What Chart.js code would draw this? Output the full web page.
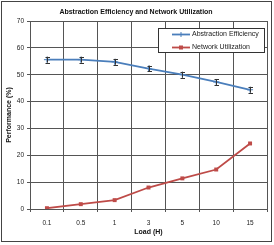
<!DOCTYPE html>
<html><head><meta charset="utf-8">
<script src="https://cdn.jsdelivr.net/npm/chart.js@4"></script>
<style>html,body{margin:0;padding:0;background:#fff}#w{width:274px;height:245px;position:relative}</style>
</head><body><div id="w"><canvas id="c" width="274" height="245"></canvas></div>
<script>
const categories = ['0.1','0.5','1','3','5','10','15'];
const abstractionEfficiency = [55.6, 55.6, 54.8, 52.3, 50.0, 47.3, 44.4];
const abstractionError = [1.1, 1.1, 1.1, 1.1, 1.1, 1.1, 1.1];
const networkUtilization = [0.3, 1.8, 3.3, 8.0, 11.4, 14.7, 24.4];
const yTicks = [0,10,20,30,40,50,60,70];
const FONT = "'Liberation Sans Narrow','Arial Narrow','Liberation Sans',Arial,sans-serif";

const extras = {
  id:'extras',
  afterDatasetsDraw(chart){
    const ctx = chart.ctx, x = chart.scales.x, y = chart.scales.y;
    ctx.save();
    ctx.strokeStyle = '#333'; ctx.lineWidth = 1;
    abstractionEfficiency.forEach((v,i)=>{
      const px = Math.round(x.getPixelForValue(i))+0.5;
      const top = y.getPixelForValue(v+abstractionError[i]);
      const bot = y.getPixelForValue(v-abstractionError[i]);
      ctx.beginPath();
      ctx.moveTo(px,top); ctx.lineTo(px,bot);
      ctx.moveTo(px-2,Math.round(top)+0.5); ctx.lineTo(px+2.5,Math.round(top)+0.5);
      ctx.moveTo(px-2,Math.round(bot)+0.5); ctx.lineTo(px+2.5,Math.round(bot)+0.5);
      ctx.stroke();
    });
    ctx.restore();
  },
  afterDraw(chart){
    const ctx = chart.ctx;
    ctx.save();
    const lx=158.5, ly=28.5, lw=106, lh=24;
    ctx.fillStyle='#fff'; ctx.fillRect(lx,ly,lw,lh);
    ctx.strokeStyle='#333'; ctx.lineWidth=1; ctx.strokeRect(lx,ly,lw,lh);
    const ds = chart.data.datasets;
    const rows=[34.5,47.5];
    ds.forEach((d,i)=>{
      const yy=rows[i];
      ctx.strokeStyle=d.borderColor; ctx.lineWidth=1.8;
      ctx.beginPath(); ctx.moveTo(172,yy); ctx.lineTo(190,yy); ctx.stroke();
      if(i===0){
        ctx.lineWidth=1; ctx.beginPath(); ctx.moveTo(181,yy-2.5); ctx.lineTo(181,yy+2.5); ctx.stroke();
      } else {
        ctx.fillStyle=d.pointBackgroundColor; ctx.fillRect(179,yy-2,4,4);
      }
      ctx.fillStyle='#222'; ctx.font='7px '+FONT; ctx.textBaseline='middle'; ctx.textAlign='left';
      ctx.fillText(d.label,192,yy);
    });
    ctx.strokeStyle='#444'; ctx.lineWidth=1;
    ctx.strokeRect(1.5,1.5,270,240);
    ctx.restore();
  }
};

new Chart(document.getElementById('c'),{
  type:'line',
  data:{labels:categories,datasets:[
    {label:'Abstraction Efficiency',data:abstractionEfficiency,borderColor:'#4A7EBB',backgroundColor:'#4A7EBB',
     pointStyle:'cross',pointRadius:3,pointBorderWidth:1,pointBorderColor:'#4A7EBB',borderWidth:1.8,tension:0},
    {label:'Network Utilization',data:networkUtilization,borderColor:'#BE4B48',backgroundColor:'#BE4B48',pointBackgroundColor:'#BE4B48',
     pointStyle:'rect',pointRadius:2.8,pointBorderWidth:0,borderWidth:1.8,tension:0}
  ]},
  plugins:[extras],
  options:{
    responsive:false,animation:false,devicePixelRatio:1,
    layout:{padding:{left:5,right:7,top:0,bottom:9}},
    plugins:{
      legend:{display:false},tooltip:{enabled:false},
      title:{display:true,text:'Abstraction Efficiency and Network Utilization',color:'#111',
        font:{family:FONT,size:7,weight:'bold'},padding:{top:8,bottom:4.6}}
    },
    scales:{
      x:{offset:true,grid:{offset:true,color:'#555',tickLength:3,drawTicks:true},border:{color:'#555'},
        ticks:{color:'#222',font:{family:FONT,size:6.5},padding:7,maxRotation:0},
        title:{display:true,text:'Load (H)',color:'#111',font:{family:FONT,size:7,weight:'bold'},padding:{top:0,bottom:0}},
        afterFit(s){s.height=27;}},
      y:{min:0,max:70,afterBuildTicks(s){s.ticks=yTicks.map(v=>({value:v}));},
        grid:{color:'#555',tickLength:3},border:{color:'#555'},
        ticks:{color:'#222',font:{family:FONT,size:6.5},padding:3},
        title:{display:true,text:'Performance (%)',color:'#111',font:{family:FONT,size:7,weight:'bold'},padding:{top:0,bottom:2}},
        afterFit(s){s.width=25;}}
    }
  }
});
</script></body></html>
